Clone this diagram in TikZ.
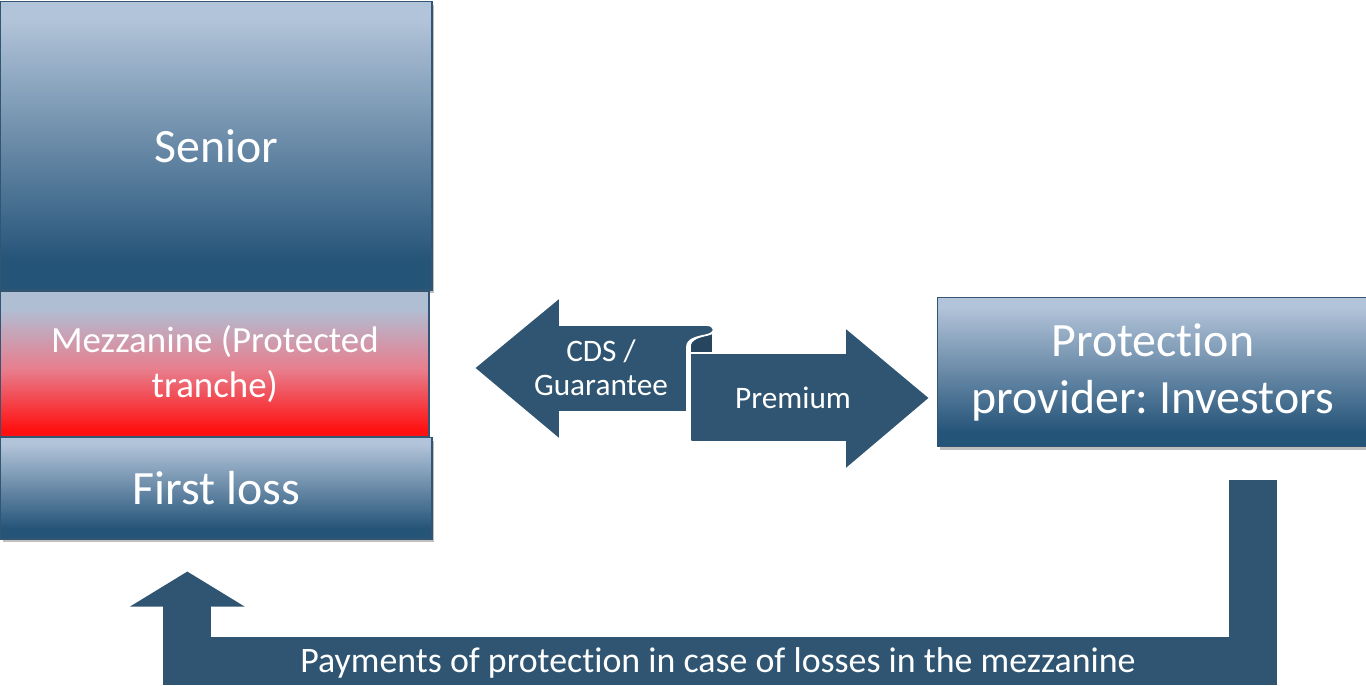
\documentclass[tikz,border=0pt]{standalone}
\usepackage{fontspec}
\setmainfont{Carlito}[Ligatures=NoCommon]
\usetikzlibrary{positioning,shadows,arrows.meta}
\definecolor{arrowblue}{RGB}{47,85,114}
\definecolor{curldark}{RGB}{38,70,95}
\definecolor{trlight}{RGB}{178,196,217}
\definecolor{trdark}{RGB}{37,84,121}
\definecolor{trborder}{RGB}{50,85,115}
\definecolor{mzlight}{RGB}{176,190,212}
\definecolor{mzpink}{RGB}{232,125,140}
\definecolor{mzred}{RGB}{255,15,15}
\pgfdeclareverticalshading{tranche}{100bp}{color(0bp)=(trdark); color(30bp)=(trdark); color(72bp)=(trlight); color(100bp)=(trlight)}
\pgfdeclareverticalshading{mezzshade}{100bp}{color(0bp)=(mzred); color(27bp)=(mzred); color(48bp)=(mzpink); color(69bp)=(mzlight); color(100bp)=(mzlight)}
\frenchspacing

\begin{document}
\begin{tikzpicture}[x=0.01cm, y=-0.01cm, box/.style={rectangle, draw=trborder, line width=0.4pt, inner sep=0pt, text=white, align=center, shade, shading=tranche}, shadowed/.style={drop shadow={shadow xshift=0.025cm, shadow yshift=-0.035cm, opacity=0.25, fill=black}}, big/.style={font=\fontsize{13.6}{16.2}\selectfont}, block/.style={fill=arrowblue, draw=white, line width=0.5pt}, payarrow/.style={draw=arrowblue, line width=0.48cm, line join=miter, -{Triangle[width=1.13cm, length=0.35cm]}}]
	\useasboundingbox (0,0) rectangle (1366,686);
	\node[box, big, shadowed, minimum width=4.31cm, minimum height=2.88cm, anchor=north west] (senior) at (0,1) {Senior};
	\node[box, shading=mezzshade, font=\fontsize{10.5}{12.8}\selectfont, minimum width=4.28cm, minimum height=1.45cm] (mezz) [below right=0cm and 0cm of senior.south west] {Mezzanine (Protected\\tranche)};
	\node[box, big, shadowed, minimum width=4.31cm, minimum height=1.01cm] (firstloss) [below right=0cm and 0cm of mezz.south west] {First loss};
	\node[box, big, shadowed, minimum width=4.30cm, minimum height=1.49cm, anchor=north west] (provider) at (937,297) {Protection\\provider: Investors};
	\path[block] (690,353) -- (690,437) .. controls (690,442) .. (695,442) -- (845,442) -- (845,470) -- (930,398) -- (845,327) -- (845,353) -- cycle;
	\path[fill=curldark, draw=white, line width=0.5pt] (690,353) -- (690,346) .. controls (690,339) and (700,336) .. (713,333) -- (713,353) -- cycle;
	\path[block] (474,368) -- (560,297) -- (560,325) -- (706,325) .. controls (716,325) and (716,333) .. (707,335) .. controls (697,337) and (687,339) .. (687,347) -- (687,412) -- (560,412) -- (560,440) -- cycle;
	\node[font=\fontsize{8.9}{9.6}\selectfont, text=white, align=center] (cds) at (601,368) {CDS /\\Guarantee};
	\node[font=\fontsize{8.9}{9.6}\selectfont, text=white] (premium) at (793,398) {Premium};
	\coordinate (pstart) at ([xshift=1cm, yshift=-0.32cm]provider.south);
	\coordinate (ptip) at ([xshift=-0.29cm, yshift=-0.32cm]firstloss.south);
	\draw[payarrow] (pstart) |- ([yshift=-0.89cm]ptip) -- (ptip);
	\node[font=\fontsize{10.2}{12}\selectfont, text=white] (paylabel) at (718,663) {Payments of protection in case of losses in the mezzanine};
\end{tikzpicture}
\end{document}
